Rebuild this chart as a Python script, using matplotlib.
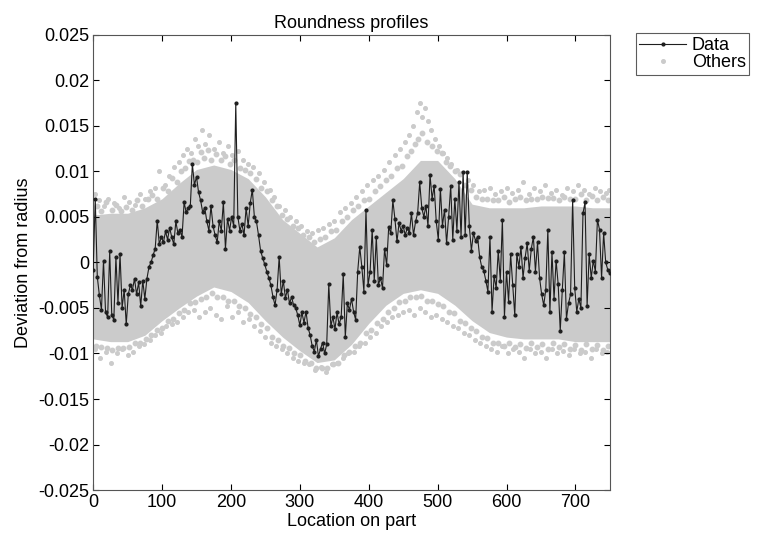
import numpy as np
import matplotlib
matplotlib.use('Agg')
import matplotlib.pyplot as plt

plt.rcParams['font.family'] = ['Liberation Sans', 'DejaVu Sans']

# profile sampled every 3 units along the part
step = 3
data_y = [
    -0.0008, 0.0070, -0.0016, -0.0036, -0.0052, 0.0002, -0.0055, -0.0060, 0.0012, -0.0058,
    -0.0063, 0.0006, -0.0045, 0.0009, -0.0050, -0.0030, -0.0068, -0.0035, -0.0025, -0.0030,
    -0.0018, -0.0035, -0.0022, -0.0048, -0.0020, -0.0040, -0.0018, -0.0005, 0.0000, 0.0008,
    0.0015, 0.0046, 0.0020, 0.0028, 0.0022, 0.0034, 0.0025, 0.0038, 0.0028, 0.0020,
    0.0045, 0.0032, 0.0036, 0.0028, 0.0066, 0.0055, 0.0060, 0.0062, 0.0108, 0.0085,
    0.0094, 0.0077, 0.0068, 0.0055, 0.0060, 0.0045, 0.0035, 0.0062, 0.0040, 0.0030,
    0.0022, 0.0045, 0.0035, 0.0066, 0.0015, 0.0048, 0.0035, 0.0050, 0.0040, 0.0175,
    0.0050, 0.0035, 0.0042, 0.0030, 0.0060, 0.0040, 0.0065, 0.0080, 0.0050, 0.0045,
    0.0030, 0.0013, 0.0005, -0.0002, -0.0010, -0.0017, -0.0025, -0.0038, -0.0047, -0.0030,
    0.0006, -0.0035, -0.0020, -0.0039, -0.0030, -0.0045, -0.0038, -0.0047, -0.0050, -0.0058,
    -0.0069, -0.0055, -0.0066, -0.0054, -0.0072, -0.0080, -0.0092, -0.0098, -0.0085, -0.0103,
    -0.0095, -0.0088, -0.0100, -0.0090, -0.0024, -0.0070, -0.0060, -0.0073, -0.0055, -0.0068,
    -0.0060, -0.0013, -0.0082, -0.0045, -0.0052, -0.0040, -0.0054, -0.0063, -0.0010, 0.0017,
    -0.0005, -0.0032, 0.0058, -0.0025, -0.0010, 0.0036, -0.0020, 0.0028, -0.0025, -0.0017,
    -0.0028, 0.0015, -0.0003, 0.0039, 0.0032, 0.0068, 0.0048, 0.0023, 0.0043, 0.0035,
    0.0040, 0.0030, 0.0038, 0.0032, 0.0054, 0.0030, 0.0045, 0.0054, 0.0088, 0.0060,
    0.0050, 0.0062, 0.0040, 0.0096, 0.0070, 0.0084, 0.0045, 0.0025, 0.0081, 0.0040,
    0.0058, 0.0021, 0.0050, 0.0084, 0.0025, 0.0070, 0.0035, 0.0088, 0.0028, 0.0099,
    0.0030, 0.0099, 0.0040, 0.0013, 0.0032, 0.0024, 0.0028, 0.0006, -0.0005, -0.0009,
    -0.0020, -0.0032, 0.0028, -0.0054, -0.0015, -0.0028, 0.0013, -0.0020, 0.0047, -0.0060,
    -0.0010, -0.0043, 0.0009, -0.0025, -0.0058, 0.0009, -0.0005, 0.0017, -0.0017, 0.0005,
    0.0021, -0.0009, 0.0015, 0.0028, -0.0010, 0.0022, -0.0017, -0.0035, -0.0047, -0.0030,
    0.0036, -0.0054, 0.0011, -0.0040, 0.0002, -0.0024, -0.0075, -0.0030, 0.0011, -0.0062,
    -0.0045, -0.0035, 0.0069, -0.0028, -0.0054, -0.0040, -0.0050, 0.0054, 0.0066, -0.0048,
    0.0009, -0.0017, 0.0002, -0.0010, 0.0047, 0.0036, -0.0017, 0.0032, 0.0000, -0.0008,
    -0.0012,
]

# dense band of the other profiles (read every 25 units)
band_x = [0, 25, 50, 75, 100, 125, 150, 175, 200, 225, 250, 275, 300, 325, 350, 375,
          400, 425, 450, 475, 500, 525, 550, 575, 600, 625, 650, 675, 700, 725, 750]
band_hi = [0.0052, 0.0054, 0.0054, 0.0060, 0.0070, 0.0087, 0.0102, 0.0107, 0.0102, 0.0092,
           0.0072, 0.0047, 0.0032, 0.0017, 0.0027, 0.0047, 0.0062, 0.0077, 0.0092, 0.0112,
           0.0112, 0.0092, 0.0064, 0.0060, 0.0060, 0.0060, 0.0062, 0.0062, 0.0062, 0.0060,
           0.0060]
band_lo = [-0.0084, -0.0087, -0.0087, -0.0080, -0.0064, -0.0050, -0.0037, -0.0027, -0.0032,
           -0.0044, -0.0064, -0.0082, -0.0097, -0.0110, -0.0107, -0.0090, -0.0067, -0.0047,
           -0.0034, -0.0030, -0.0034, -0.0047, -0.0064, -0.0077, -0.0082, -0.0084, -0.0084,
           -0.0084, -0.0087, -0.0087, -0.0087]

# scattered points of the other profiles just outside the band
near_up_x = [5, 11, 19, 27, 33, 41, 48, 56, 63, 71, 79, 86, 93, 101, 108, 115, 121, 127,
             133, 139, 145, 151, 156, 161, 166, 171, 179, 185, 191, 198, 205, 213, 220, 228,
             236, 244, 252, 259, 267, 274, 282, 290, 298, 305, 313, 321, 329, 337, 345, 353,
             361, 369, 377, 385, 393, 401, 409, 417, 425, 433, 441, 449, 456, 462, 467, 472,
             477, 484, 492, 499, 506, 512, 518, 525, 532, 540, 548, 556, 564, 572, 580, 588,
             596, 604, 612, 620, 628, 636, 644, 652, 660, 668, 676, 684, 692, 700, 708, 716,
             724, 732, 740, 747]
near_up_y = [0.0062, 0.0057, 0.0066, 0.0058, 0.0063, 0.0056, 0.0061, 0.0058, 0.0068, 0.0062,
             0.0070, 0.0074, 0.0070, 0.0082, 0.0078, 0.0093, 0.0088, 0.0100, 0.0104, 0.0111,
             0.0112, 0.0110, 0.0121, 0.0115, 0.0123, 0.0113, 0.0119, 0.0112, 0.0117, 0.0108,
             0.0112, 0.0104, 0.0102, 0.0098, 0.0092, 0.0082, 0.0078, 0.0068, 0.0062, 0.0052,
             0.0048, 0.0040, 0.0038, 0.0030, 0.0028, 0.0022, 0.0026, 0.0028, 0.0034, 0.0036,
             0.0046, 0.0050, 0.0058, 0.0062, 0.0068, 0.0070, 0.0078, 0.0084, 0.0090, 0.0095,
             0.0104, 0.0106, 0.0117, 0.0122, 0.0130, 0.0135, 0.0142, 0.0132, 0.0128, 0.0122,
             0.0120, 0.0110, 0.0106, 0.0100, 0.0097, 0.0085, 0.0080, 0.0072, 0.0070, 0.0070,
             0.0068, 0.0068, 0.0072, 0.0066, 0.0070, 0.0072, 0.0069, 0.0070, 0.0070, 0.0072,
             0.0071, 0.0071, 0.0069, 0.0072, 0.0070, 0.0070, 0.0075, 0.0068, 0.0073, 0.0069,
             0.0072, 0.0068]
near_lo_x = [4, 12, 20, 28, 36, 44, 52, 60, 68, 76, 84, 92, 100, 108, 116, 124, 132, 140,
             148, 156, 164, 172, 180, 188, 196, 204, 212, 220, 228, 236, 244, 252, 260, 268,
             276, 284, 292, 300, 308, 316, 324, 332, 340, 348, 356, 364, 372, 380, 388, 396,
             404, 412, 420, 428, 436, 444, 452, 460, 468, 476, 484, 492, 500, 508, 516, 524,
             532, 540, 548, 556, 564, 572, 580, 588, 596, 604, 612, 620, 628, 636, 644, 652,
             660, 668, 676, 684, 692, 700, 708, 716, 724, 732, 740, 748]
near_lo_y = [-0.0092, -0.0093, -0.0094, -0.0096, -0.0094, -0.0094, -0.0093, -0.0088, -0.0088,
             -0.0084, -0.0080, -0.0074, -0.0072, -0.0064, -0.0062, -0.0056, -0.0052, -0.0045,
             -0.0044, -0.0040, -0.0038, -0.0034, -0.0038, -0.0038, -0.0042, -0.0042, -0.0048,
             -0.0050, -0.0057, -0.0060, -0.0068, -0.0072, -0.0082, -0.0085, -0.0092, -0.0094,
             -0.0100, -0.0102, -0.0108, -0.0110, -0.0116, -0.0116, -0.0116, -0.0112, -0.0110,
             -0.0102, -0.0098, -0.0092, -0.0088, -0.0078, -0.0074, -0.0066, -0.0062, -0.0054,
             -0.0050, -0.0044, -0.0042, -0.0038, -0.0038, -0.0037, -0.0042, -0.0042, -0.0046,
             -0.0048, -0.0054, -0.0056, -0.0064, -0.0066, -0.0072, -0.0075, -0.0082, -0.0083,
             -0.0088, -0.0088, -0.0092, -0.0088, -0.0093, -0.0090, -0.0094, -0.0089, -0.0093,
             -0.0090, -0.0095, -0.0089, -0.0093, -0.0090, -0.0095, -0.0091, -0.0096, -0.0090,
             -0.0095, -0.0091, -0.0096, -0.0092]

# farthest scattered points of the other profiles
far_up_x = [2, 8, 15, 22, 30, 38, 45, 52, 60, 68, 75, 82, 90, 96, 104, 110, 118, 124, 130,
            136, 142, 148, 152, 158, 163, 168, 175, 182, 188, 195, 202, 210, 218, 225, 232,
            240, 248, 256, 262, 270, 278, 286, 295, 302, 310, 318, 326, 334, 342, 350, 358,
            366, 374, 382, 390, 398, 406, 414, 422, 430, 438, 446, 452, 458, 464, 470, 474,
            478, 482, 486, 490, 496, 502, 508, 514, 520, 528, 536, 544, 552, 560, 568, 576,
            584, 592, 600, 608, 616, 624, 632, 640, 648, 656, 664, 672, 680, 688, 696, 704,
            712, 720, 728, 736, 744, 749]
far_up_y = [0.0075, 0.0068, 0.0062, 0.0070, 0.0065, 0.0060, 0.0072, 0.0066, 0.0063, 0.0075,
            0.0070, 0.0078, 0.0082, 0.0100, 0.0085, 0.0095, 0.0105, 0.0110, 0.0118, 0.0125,
            0.0120, 0.0135, 0.0128, 0.0145, 0.0130, 0.0140, 0.0125, 0.0132, 0.0120, 0.0128,
            0.0118, 0.0122, 0.0112, 0.0108, 0.0105, 0.0098, 0.0088, 0.0080, 0.0072, 0.0062,
            0.0058, 0.0050, 0.0045, 0.0040, 0.0035, 0.0032, 0.0036, 0.0038, 0.0042, 0.0045,
            0.0055, 0.0060, 0.0065, 0.0072, 0.0078, 0.0085, 0.0090, 0.0095, 0.0102, 0.0110,
            0.0118, 0.0125, 0.0132, 0.0140, 0.0150, 0.0165, 0.0175, 0.0160, 0.0170, 0.0155,
            0.0145, 0.0135, 0.0128, 0.0120, 0.0115, 0.0108, 0.0102, 0.0098, 0.0090, 0.0085,
            0.0078, 0.0080, 0.0082, 0.0075, 0.0078, 0.0082, 0.0076, 0.0080, 0.0088, 0.0075,
            0.0082, 0.0078, 0.0085, 0.0076, 0.0080, 0.0074, 0.0082, 0.0078, 0.0085, 0.0080,
            0.0075, 0.0082, 0.0078, 0.0076, 0.0080]
far_lo_x = [2, 10, 18, 26, 34, 42, 50, 58, 66, 74, 82, 90, 98, 106, 114, 122, 130, 138, 146,
            154, 162, 170, 178, 186, 194, 202, 210, 218, 226, 234, 242, 250, 258, 266, 274,
            282, 290, 298, 306, 314, 322, 330, 338, 346, 354, 362, 370, 378, 386, 394, 402,
            410, 418, 426, 434, 442, 450, 458, 466, 474, 482, 490, 498, 506, 514, 522, 530,
            538, 546, 554, 562, 570, 578, 586, 594, 602, 610, 618, 626, 634, 642, 650, 658,
            666, 674, 682, 690, 698, 706, 714, 722, 730, 738, 746]
far_lo_y = [-0.0095, -0.0105, -0.0098, -0.0110, -0.0100, -0.0095, -0.0102, -0.0098, -0.0092,
            -0.0090, -0.0085, -0.0080, -0.0078, -0.0070, -0.0068, -0.0065, -0.0060, -0.0055,
            -0.0052, -0.0060, -0.0055, -0.0050, -0.0058, -0.0062, -0.0048, -0.0060, -0.0055,
            -0.0065, -0.0062, -0.0070, -0.0075, -0.0082, -0.0088, -0.0092, -0.0095, -0.0100,
            -0.0105, -0.0108, -0.0110, -0.0112, -0.0118, -0.0115, -0.0120, -0.0112, -0.0110,
            -0.0105, -0.0100, -0.0098, -0.0092, -0.0088, -0.0082, -0.0078, -0.0070, -0.0065,
            -0.0060, -0.0058, -0.0055, -0.0052, -0.0058, -0.0050, -0.0055, -0.0060, -0.0058,
            -0.0062, -0.0065, -0.0070, -0.0072, -0.0078, -0.0080, -0.0085, -0.0088, -0.0092,
            -0.0095, -0.0098, -0.0092, -0.0100, -0.0095, -0.0098, -0.0105, -0.0095, -0.0100,
            -0.0098, -0.0105, -0.0095, -0.0100, -0.0097, -0.0102, -0.0095, -0.0100, -0.0098,
            -0.0105, -0.0095, -0.0100, -0.0098]

xticks = [0, 100, 200, 300, 400, 500, 600, 700]
yticks = [0.025, 0.02, 0.015, 0.01, 0.005, 0, -0.005, -0.01, -0.015, -0.02, -0.025]
ytick_labels = ['0.025', '0.02', '0.015', '0.01', '0.005', '0', '-0.005', '-0.01',
                '-0.015', '-0.02', '-0.025']

grey = '#cbcbcb'
dark = '#1e1e1e'

fig = plt.figure(figsize=(7.7, 5.35), dpi=100)
ax = fig.add_axes([0.121, 0.084, 0.671, 0.851])

data_x = np.arange(len(data_y)) * step

ax.fill_between(band_x, band_lo, band_hi, color=grey, lw=0, zorder=1)
ax.plot(near_up_x + near_lo_x, near_up_y + near_lo_y, ls='none', marker='o', ms=3.2,
        mfc=grey, mec=grey, zorder=1)
ax.plot(far_up_x + far_lo_x, far_up_y + far_lo_y, ls='none', marker='o', ms=2.6,
        mfc=grey, mec=grey, zorder=1, label='Others')
ax.plot(data_x, data_y, color=dark, lw=0.8, marker='o', ms=2.0, mfc=dark, mec=dark,
        zorder=3, label='Data')

ax.set_xlim(0, 750)
ax.set_ylim(-0.025, 0.025)
ax.set_xticks(xticks)
ax.set_yticks(yticks)
ax.set_yticklabels(ytick_labels)
ax.tick_params(direction='in', top=True, right=True, labelsize=13, length=4, pad=3)
for s in ax.spines.values():
    s.set_color('#555555')
    s.set_linewidth(0.8)

ax.set_title('Roundness profiles', fontsize=13, pad=5)
ax.set_xlabel('Location on part', fontsize=13, labelpad=1)
ax.set_ylabel('Deviation from radius', fontsize=13, labelpad=4)

h, l = ax.get_legend_handles_labels()
leg = ax.legend(h[::-1], l[::-1], loc='upper left', bbox_to_anchor=(1.05, 1.003),
                fontsize=13, frameon=True, fancybox=False, borderaxespad=0,
                handlelength=2.6, handletextpad=0.3, labelspacing=0.0, borderpad=0.2)
leg.get_frame().set_edgecolor('#333333')
leg.get_frame().set_linewidth(0.8)

fig.savefig('out.png', dpi=100)
